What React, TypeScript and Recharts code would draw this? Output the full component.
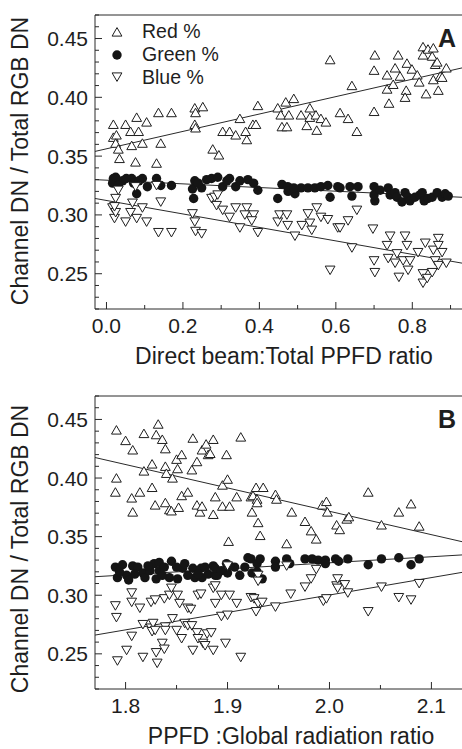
import React from 'react';
import { ScatterChart, Scatter, XAxis, YAxis, ReferenceLine } from 'recharts';

type P = [number, number];

// ---------- Panel A data (x = Direct beam:Total PPFD ratio) ----------
const redA: P[] = [
  [0.018,0.377],[0.018,0.366],[0.026,0.368],[0.024,0.361],[0.031,0.356],[0.034,0.348],[0.050,0.377],[0.063,0.371],
  [0.079,0.383],[0.084,0.371],[0.066,0.359],[0.076,0.345],[0.094,0.361],[0.105,0.379],[0.136,0.387],[0.142,0.361],
  [0.131,0.344],[0.170,0.387],[0.231,0.391],[0.231,0.377],[0.233,0.374],[0.252,0.392],[0.233,0.387],[0.278,0.356],
  [0.294,0.351],[0.304,0.371],[0.322,0.371],[0.338,0.368],[0.349,0.382],[0.364,0.371],[0.367,0.364],[0.383,0.377],
  [0.391,0.377],[0.396,0.393],[0.448,0.391],[0.456,0.385],[0.469,0.396],[0.459,0.375],[0.472,0.375],[0.477,0.385],
  [0.490,0.399],[0.509,0.385],[0.524,0.376],[0.532,0.391],[0.532,0.383],[0.548,0.385],[0.550,0.372],[0.561,0.382],
  [0.574,0.379],[0.585,0.432],[0.611,0.387],[0.632,0.382],[0.642,0.410],[0.655,0.371],[0.700,0.388],[0.700,0.423],
  [0.702,0.436],[0.734,0.407],[0.739,0.395],[0.734,0.419],[0.750,0.411],[0.755,0.425],[0.763,0.436],[0.768,0.418],
  [0.786,0.429],[0.784,0.406],[0.781,0.400],[0.799,0.424],[0.813,0.419],[0.818,0.413],[0.828,0.443],[0.828,0.436],
  [0.836,0.403],[0.841,0.441],[0.852,0.435],[0.855,0.442],[0.855,0.415],[0.860,0.428],[0.865,0.430],[0.868,0.406],
  [0.873,0.418],[0.878,0.417],[0.889,0.425],
];
const greenA: P[] = [
  [0.018,0.331],[0.029,0.327],[0.016,0.327],[0.042,0.329],[0.066,0.331],[0.071,0.327],[0.079,0.318],[0.094,0.331],
  [0.107,0.324],[0.131,0.331],[0.142,0.325],[0.170,0.325],[0.231,0.329],[0.225,0.322],[0.249,0.323],[0.228,0.314],
  [0.275,0.331],[0.291,0.332],[0.304,0.324],[0.322,0.331],[0.338,0.324],[0.349,0.329],[0.370,0.330],[0.385,0.327],
  [0.396,0.321],[0.448,0.314],[0.459,0.326],[0.474,0.324],[0.493,0.318],[0.509,0.323],[0.527,0.323],[0.545,0.323],
  [0.561,0.324],[0.579,0.325],[0.585,0.315],[0.605,0.324],[0.611,0.323],[0.637,0.324],[0.642,0.316],[0.658,0.324],
  [0.700,0.324],[0.702,0.312],[0.700,0.317],[0.716,0.321],[0.737,0.323],[0.742,0.317],[0.755,0.319],[0.760,0.315],
  [0.773,0.311],[0.781,0.319],[0.789,0.315],[0.794,0.312],[0.807,0.315],[0.820,0.317],[0.826,0.319],[0.831,0.312],
  [0.841,0.314],[0.852,0.315],[0.865,0.319],[0.878,0.315],[0.886,0.318],[0.894,0.316],
  [0.024,0.332],[0.052,0.331],[0.031,0.325],[0.085,0.329],[0.240,0.327],[0.262,0.330],[0.315,0.329],[0.475,0.320],
  [0.490,0.323],
];
const blueA: P[] = [
  [0.016,0.306],[0.021,0.297],[0.024,0.302],[0.021,0.307],[0.024,0.314],[0.031,0.321],[0.050,0.294],[0.063,0.302],
  [0.068,0.310],[0.079,0.297],[0.076,0.324],[0.094,0.306],[0.105,0.294],[0.131,0.325],[0.142,0.311],[0.136,0.285],
  [0.170,0.285],[0.225,0.301],[0.231,0.294],[0.233,0.286],[0.249,0.284],[0.275,0.314],[0.288,0.308],[0.283,0.315],
  [0.291,0.317],[0.304,0.304],[0.322,0.298],[0.338,0.306],[0.349,0.289],[0.367,0.306],[0.362,0.300],[0.385,0.300],
  [0.380,0.295],[0.396,0.285],[0.448,0.294],[0.453,0.300],[0.472,0.300],[0.474,0.291],[0.493,0.282],[0.511,0.291],
  [0.527,0.301],[0.532,0.293],[0.550,0.306],[0.561,0.298],[0.537,0.287],[0.579,0.296],[0.585,0.253],[0.605,0.289],
  [0.611,0.289],[0.632,0.295],[0.655,0.304],[0.642,0.272],[0.697,0.288],[0.700,0.261],[0.702,0.251],[0.734,0.274],
  [0.742,0.282],[0.737,0.263],[0.760,0.267],[0.755,0.259],[0.765,0.247],[0.781,0.282],[0.786,0.274],[0.776,0.261],
  [0.794,0.261],[0.789,0.253],[0.815,0.268],[0.834,0.276],[0.828,0.250],[0.828,0.242],[0.839,0.246],[0.852,0.251],
  [0.855,0.270],[0.868,0.280],[0.868,0.274],[0.878,0.268],[0.860,0.261],[0.868,0.257],[0.889,0.259],
];
const fitRedA: P[] = [[-0.03, 0.354], [0.93, 0.425]];
const fitGreenA: P[] = [[-0.03, 0.330], [0.93, 0.315]];
const fitBlueA: P[] = [[-0.03, 0.314], [0.93, 0.259]];

// ---------- Panel B data (x = PPFD:Global radiation ratio) ----------
const redB: P[] = [
  [1.791,0.441],[1.800,0.432],[1.807,0.424],[1.791,0.400],[1.790,0.388],[1.806,0.383],[1.807,0.371],[1.814,0.388],
  [1.818,0.406],[1.818,0.438],[1.826,0.392],[1.826,0.412],[1.829,0.377],[1.830,0.437],[1.832,0.446],[1.836,0.433],
  [1.839,0.425],[1.839,0.410],[1.840,0.404],[1.839,0.379],[1.843,0.373],[1.845,0.372],[1.846,0.400],[1.850,0.416],
  [1.851,0.408],[1.855,0.420],[1.852,0.375],[1.855,0.385],[1.861,0.388],[1.865,0.407],[1.866,0.434],[1.870,0.414],
  [1.870,0.377],[1.873,0.371],[1.875,0.424],[1.875,0.376],[1.879,0.429],[1.881,0.420],[1.883,0.421],[1.886,0.433],
  [1.886,0.369],[1.888,0.384],[1.895,0.394],[1.895,0.376],[1.899,0.420],[1.900,0.399],[1.901,0.346],[1.902,0.376],
  [1.909,0.384],[1.913,0.435],[1.924,0.371],[1.923,0.384],[1.925,0.385],[1.928,0.392],[1.929,0.382],[1.929,0.379],
  [1.930,0.362],[1.932,0.351],[1.935,0.392],[1.947,0.386],[1.948,0.382],[1.958,0.344],[1.963,0.371],[1.976,0.363],
  [1.982,0.355],[1.987,0.348],[1.993,0.377],[1.997,0.380],[1.998,0.371],[2.007,0.360],[2.010,0.356],[2.017,0.365],
  [2.019,0.367],[2.038,0.388],[2.051,0.360],[2.068,0.371],[2.080,0.378],[2.088,0.359],
];
const greenB: P[] = [
  [1.790,0.324],[1.792,0.315],[1.797,0.326],[1.801,0.317],[1.803,0.313],[1.807,0.325],[1.812,0.324],[1.817,0.319],
  [1.819,0.315],[1.824,0.321],[1.828,0.327],[1.830,0.314],[1.833,0.321],[1.833,0.328],[1.838,0.324],[1.845,0.329],
  [1.843,0.315],[1.850,0.324],[1.851,0.314],[1.856,0.323],[1.861,0.317],[1.866,0.323],[1.868,0.315],[1.874,0.323],
  [1.875,0.315],[1.881,0.318],[1.886,0.325],[1.888,0.317],[1.890,0.317],[1.888,0.323],[1.899,0.327],[1.900,0.319],
  [1.907,0.324],[1.912,0.317],[1.920,0.332],[1.923,0.331],[1.924,0.319],[1.929,0.327],[1.932,0.331],[1.934,0.314],
  [1.929,0.320],[1.947,0.329],[1.947,0.324],[1.958,0.331],[1.961,0.327],[1.976,0.331],[1.983,0.331],[1.989,0.330],
  [1.996,0.330],[1.996,0.327],[2.006,0.331],[2.009,0.329],[2.018,0.331],[2.038,0.326],[2.051,0.331],[2.068,0.332],
  [2.080,0.326],[2.088,0.331],
  [1.794,0.320],[1.809,0.318],[1.822,0.325],[1.836,0.317],[1.858,0.327],[1.871,0.318],[1.878,0.324],[1.894,0.321],
  [1.902,0.325],[1.917,0.324],
];
const blueB: P[] = [
  [1.790,0.291],[1.791,0.281],[1.792,0.244],[1.801,0.253],[1.806,0.302],[1.806,0.294],[1.806,0.265],[1.814,0.289],
  [1.817,0.247],[1.817,0.275],[1.825,0.294],[1.825,0.272],[1.826,0.269],[1.827,0.276],[1.829,0.296],[1.829,0.270],
  [1.830,0.251],[1.831,0.242],[1.836,0.259],[1.838,0.297],[1.839,0.273],[1.839,0.270],[1.838,0.254],[1.843,0.300],
  [1.845,0.306],[1.846,0.280],[1.850,0.270],[1.851,0.300],[1.853,0.293],[1.855,0.263],[1.858,0.276],[1.861,0.289],
  [1.864,0.288],[1.861,0.274],[1.865,0.274],[1.866,0.253],[1.870,0.268],[1.871,0.300],[1.871,0.263],[1.874,0.301],
  [1.876,0.259],[1.880,0.267],[1.878,0.257],[1.884,0.268],[1.886,0.306],[1.886,0.253],[1.888,0.293],[1.888,0.308],
  [1.894,0.300],[1.894,0.282],[1.898,0.259],[1.900,0.325],[1.900,0.283],[1.902,0.300],[1.909,0.293],[1.913,0.247],
  [1.923,0.298],[1.926,0.297],[1.930,0.293],[1.934,0.294],[1.928,0.286],[1.930,0.317],[1.930,0.312],[1.947,0.290],
  [1.958,0.325],[1.962,0.301],[1.976,0.307],[1.982,0.314],[1.987,0.322],[1.994,0.295],[1.997,0.297],[2.007,0.308],
  [2.008,0.314],[2.008,0.306],[2.015,0.309],[2.018,0.302],[2.038,0.286],[2.051,0.307],[2.068,0.298],[2.080,0.296],
  [2.088,0.310],
];
const fitRedB: P[] = [[1.77, 0.4175], [2.13, 0.3457]];
const fitGreenB: P[] = [[1.77, 0.3158], [2.13, 0.3344]];
const fitBlueB: P[] = [[1.77, 0.266], [2.13, 0.3195]];

// ---------- Axes ----------
const yDomain: [number, number] = [0.22, 0.47];
const yTicks = [0.22,0.23,0.24,0.25,0.26,0.27,0.28,0.29,0.30,0.31,0.32,0.33,0.34,0.35,0.36,0.37,0.38,0.39,0.40,0.41,0.42,0.43,0.44,0.45,0.46,0.47];
const yTickLabels = [0.25, 0.30, 0.35, 0.40, 0.45];

const xDomainA: [number, number] = [-0.03, 0.93];
const xTicksA = [0.0,0.1,0.2,0.3,0.4,0.5,0.6,0.7,0.8,0.9];
const xTickLabelsA = [0.0, 0.2, 0.4, 0.6, 0.8];

const xDomainB: [number, number] = [1.77, 2.13];
const xTicksB = [1.80,1.85,1.90,1.95,2.00,2.05,2.10];
const xTickLabelsB = [1.8, 1.9, 2.0, 2.1];

const yTitle = 'Channel DN / Total RGB DN';
const xTitleA = 'Direct beam:Total PPFD ratio';
const xTitleB = 'PPFD :Global radiation ratio';
const legendNames = ['Red %', 'Green %', 'Blue %'];

const FONT = '"Liberation Sans", Arial, Helvetica, sans-serif';
const INK = '#1e1e1e';
const LINE = '#2a2a2a';

const toPts = (a: P[]) => a.map(([x, y]) => ({ x, y }));
const isIn = (v: number, list: number[]) => list.some((l) => Math.abs(l - v) < 1e-6);

const TriUp = (p: any) => {
  const { cx, cy } = p;
  if (cx == null || cy == null) return <g />;
  return <polygon points={`${cx},${cy - 4.4} ${cx - 4.9},${cy + 4.1} ${cx + 4.9},${cy + 4.1}`} fill="#fff" stroke={INK} strokeWidth={1} />;
};
const TriDown = (p: any) => {
  const { cx, cy } = p;
  if (cx == null || cy == null) return <g />;
  return <polygon points={`${cx},${cy + 4.4} ${cx - 4.9},${cy - 4.1} ${cx + 4.9},${cy - 4.1}`} fill="#fff" stroke={INK} strokeWidth={1} />;
};
const Dot = (p: any) => {
  const { cx, cy } = p;
  if (cx == null || cy == null) return <g />;
  return <circle cx={cx} cy={cy} r={4.7} fill="#151515" />;
};
const NoShape = () => <g />;

const makeXTick = (labels: number[]) => (props: any) => {
  const { x, y, payload } = props;
  const v = payload.value as number;
  const major = isIn(v, labels);
  return (
    <g>
      <line x1={x} x2={x} y1={y} y2={y - (major ? 7 : 4)} stroke={LINE} strokeWidth={1} />
      {major && (
        <text x={x} y={y + 24} textAnchor="middle" fontFamily={FONT} fontSize={21} fill={INK}>
          {v.toFixed(1)}
        </text>
      )}
    </g>
  );
};

const YTick = (props: any) => {
  const { x, y, payload } = props;
  const v = payload.value as number;
  const major = isIn(v, yTickLabels);
  return (
    <g>
      <line x1={x} x2={x + (major ? 7 : 4)} y1={y} y2={y} stroke={LINE} strokeWidth={1} />
      {major && (
        <text x={x - 7} y={y + 7.5} textAnchor="end" fontFamily={FONT} fontSize={21} fill={INK}>
          {v.toFixed(2)}
        </text>
      )}
    </g>
  );
};

type PanelProps = {
  height: number;
  xAxisHeight: number;
  xDomain: [number, number];
  xTicks: number[];
  xLabels: number[];
  red: P[];
  green: P[];
  blue: P[];
  fits: P[][];
};

const Panel = ({ height, xAxisHeight, xDomain, xTicks, xLabels, red, green, blue, fits }: PanelProps) => (
  <ScatterChart width={462} height={height} margin={{ top: 15, right: 0, bottom: 0, left: 0 }}>
    <XAxis
      type="number"
      dataKey="x"
      domain={xDomain}
      ticks={xTicks}
      interval={0}
      allowDataOverflow
      height={xAxisHeight}
      tickSize={0}
      tickMargin={0}
      tickLine={false}
      axisLine={{ stroke: LINE, strokeWidth: 1 }}
      tick={makeXTick(xLabels)}
    />
    <YAxis
      type="number"
      dataKey="y"
      domain={yDomain}
      ticks={yTicks}
      interval={0}
      allowDataOverflow
      width={95}
      tickSize={0}
      tickMargin={0}
      tickLine={false}
      axisLine={{ stroke: LINE, strokeWidth: 1 }}
      tick={YTick}
    />
    <ReferenceLine y={yDomain[1]} stroke={LINE} strokeWidth={1} />
    {fits.map((f, i) => (
      <Scatter
        key={'fit' + i}
        data={toPts(f)}
        line={{ stroke: LINE, strokeWidth: 1 }}
        shape={NoShape}
        legendType="none"
        isAnimationActive={false}
      />
    ))}
    <Scatter name="Red %" data={toPts(red)} shape={TriUp} isAnimationActive={false} />
    <Scatter name="Green %" data={toPts(green)} shape={Dot} isAnimationActive={false} />
    <Scatter name="Blue %" data={toPts(blue)} shape={TriDown} isAnimationActive={false} />
  </ScatterChart>
);

export default function App() {
  const textStyle = { fontFamily: FONT, fill: INK } as const;
  return (
    <div style={{ position: 'absolute', left: 0, top: 0, width: 462, height: 749, background: '#fff', overflow: 'hidden' }}>
      <div style={{ position: 'absolute', left: 0, top: 0 }}>
        <Panel
          height={380}
          xAxisHeight={71}
          xDomain={xDomainA}
          xTicks={xTicksA}
          xLabels={xTickLabelsA}
          red={redA}
          green={greenA}
          blue={blueA}
          fits={[fitRedA, fitGreenA, fitBlueA]}
        />
      </div>
      <div style={{ position: 'absolute', left: 0, top: 381 }}>
        <Panel
          height={368}
          xAxisHeight={60}
          xDomain={xDomainB}
          xTicks={xTicksB}
          xLabels={xTickLabelsB}
          red={redB}
          green={greenB}
          blue={blueB}
          fits={[fitRedB, fitGreenB, fitBlueB]}
        />
      </div>
      <svg width={462} height={749} style={{ position: 'absolute', left: 0, top: 0, pointerEvents: 'none' }}>
        <text x={28} y={161} transform="rotate(-90 28 161)" textAnchor="middle" fontSize={23} {...textStyle}>{yTitle}</text>
        <text x={28} y={549} transform="rotate(-90 28 549)" textAnchor="middle" fontSize={23} {...textStyle}>{yTitle}</text>
        <text x={284} y={364} textAnchor="middle" fontSize={23} {...textStyle}>{xTitleA}</text>
        <text x={291} y={744} textAnchor="middle" fontSize={23} {...textStyle}>{xTitleB}</text>
        <text x={456} y={47} textAnchor="end" fontSize={25} fontWeight="bold" {...textStyle}>A</text>
        <text x={456} y={428} textAnchor="end" fontSize={25} fontWeight="bold" {...textStyle}>B</text>
        {/* legend */}
        <g>
          <TriUp cx={117} cy={32} />
          <Dot cx={117} cy={55} />
          <TriDown cx={117} cy={77} />
          <text x={142} y={38} fontSize={19.5} {...textStyle}>{legendNames[0]}</text>
          <text x={142} y={61} fontSize={19.5} {...textStyle}>{legendNames[1]}</text>
          <text x={142} y={83.5} fontSize={19.5} {...textStyle}>{legendNames[2]}</text>
        </g>
      </svg>
    </div>
  );
}
